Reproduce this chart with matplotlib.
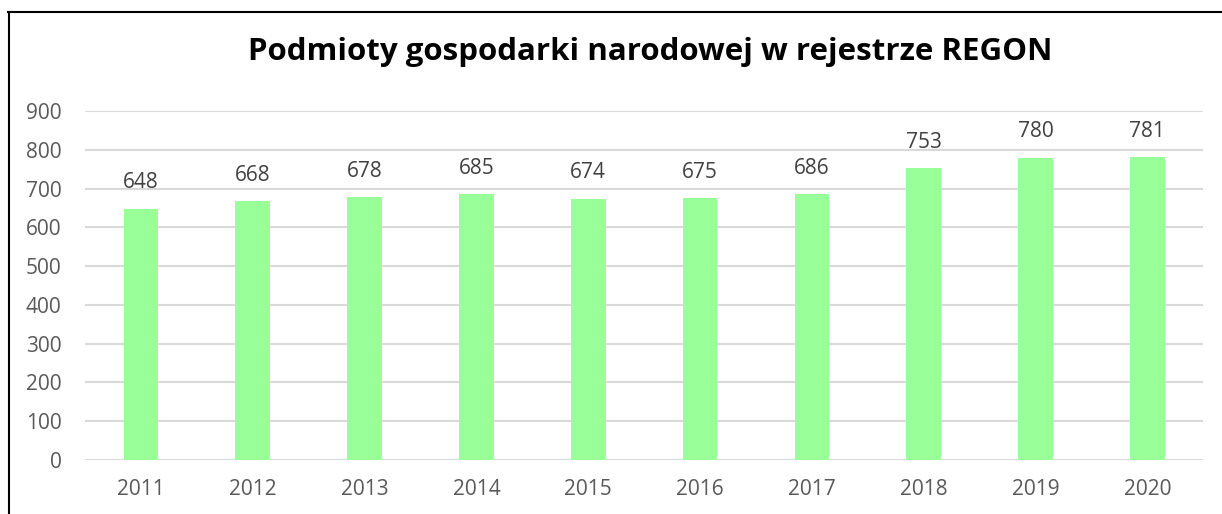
import matplotlib.pyplot as plt
from matplotlib.lines import Line2D

years = ["2011", "2012", "2013", "2014", "2015", "2016", "2017", "2018", "2019", "2020"]
values = [648, 668, 678, 685, 674, 675, 686, 753, 780, 781]
y_ticks = [0, 100, 200, 300, 400, 500, 600, 700, 800, 900]

plt.rcParams["font.family"] = ["Open Sans", "DejaVu Sans"]

fig = plt.figure(figsize=(12.22, 5.14), dpi=100)
ax = fig.add_axes([0.0696, 0.105, 0.915, 0.679])

x = range(len(years))
bars = ax.bar(x, values, width=0.31, color="#99FF99", zorder=2)

for xi, v in zip(x, values):
    ax.annotate(str(v), (xi, v), xytext=(0, 11), textcoords="offset points",
                ha="center", va="bottom", fontsize=15, color="#404040")

ax.set_xlim(-0.5, len(years) - 0.5)
ax.set_ylim(0, 900)
ax.set_yticks(y_ticks)
ax.set_xticks(list(x))
ax.set_xticklabels(years)
ax.tick_params(axis="both", length=0, labelsize=15, labelcolor="#595959")
ax.tick_params(axis="x", pad=14)
ax.tick_params(axis="y", pad=17)
ax.grid(axis="y", color="#D9D9D9", linewidth=1.5, zorder=0)
ax.set_axisbelow(True)
for s in ax.spines.values():
    s.set_visible(False)

fig.text(0.532, 0.898, "Podmioty gospodarki narodowej w rejestrze REGON",
         ha="center", va="center", fontsize=22.5, fontweight="bold", color="black")

# frame (only top and left edges are visible in the crop)
fig.add_artist(Line2D([8 / 1222, 1221 / 1222], [1 - 12 / 514, 1 - 12 / 514],
                      transform=fig.transFigure, color="black", linewidth=1.5))
fig.add_artist(Line2D([8.5 / 1222, 8.5 / 1222], [0, 1 - 12 / 514],
                      transform=fig.transFigure, color="black", linewidth=1.5))

fig.savefig("out.png", dpi=100)
